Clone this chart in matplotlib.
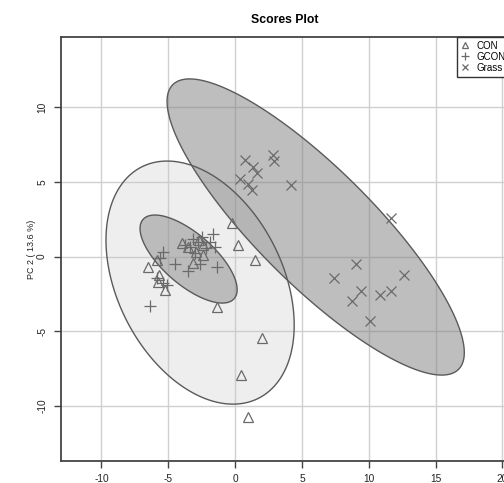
import matplotlib
matplotlib.use("Agg")
import matplotlib.pyplot as plt
from matplotlib.patches import Polygon
import numpy as np

plt.rcParams['font.family'] = ['Liberation Sans', 'DejaVu Sans']
plt.rcParams['axes.unicode_minus'] = False

# scores (PC1, PC2)
con_x = [-0.25, 0.25, -3.99, -2.37, -2.37, -5.87, -6.49, -3.18, -5.69, -5.75,
         -5.24, -1.33, 1.50, 2.0, 0.41, 0.97, -3.5, -2.9, -2.7]
con_y = [2.25, 0.77, 0.89, 0.77, 0.10, -0.23, -0.67, -0.44, -1.24, -1.68,
         -2.28, -3.42, -0.21, -5.49, -7.95, -10.74, 0.66, 0.3, 1.1]

gcon_x = [-1.63, -3.12, -2.75, -1.87, -1.50, -3.37, -3.0, -5.37, -4.49, -2.62,
          -3.5, -1.37, -5.62, -5.87, -5.12, -6.37, -2.17, -2.47, -5.37, -3.75]
gcon_y = [1.51, 1.15, 0.99, 0.99, 0.66, 0.66, 0.21, 0.32, -0.5, -0.5,
          -1.0, -0.67, -0.12, -1.46, -1.91, -3.29, 0.57, 1.31, -1.78, 0.77]

grass_x = [0.75, 1.37, 1.63, 0.37, 0.94, 1.25, 2.87, 2.92, 4.16, 11.63,
           9.06, 7.39, 9.44, 8.76, 10.81, 11.69, 12.64, 10.09]
grass_y = [6.48, 6.0, 5.62, 5.18, 4.87, 4.46, 6.81, 6.41, 4.78, 2.6,
           -0.48, -1.44, -2.34, -3.01, -2.6, -2.34, -1.22, -4.31]

# confidence ellipses: centre and shape matrix [[sxx, sxy], [sxy, syy]]
con_center = [-2.62, -1.75]
con_shape = [[49.6, -20.1], [-20.1, 66.5]]
gcon_center = [-3.48, -0.17]
gcon_shape = [[13.2, -7.44], [-7.44, 8.72]]
grass_center = [6.03, 1.98]
grass_shape = [[123.7, -93.7], [-93.7, 98.7]]

groups = ['CON', 'GCON', 'Grass']
xticks = [-10, -5, 0, 5, 10, 15, 20]
yticks = [-10, -5, 0, 5, 10]


def ellipse_points(center, shape, n=200):
    t = np.linspace(0, 2 * np.pi, n)
    L = np.linalg.cholesky(np.array(shape))
    circ = np.vstack([np.cos(t), np.sin(t)])
    return (L @ circ).T + np.array(center)


fig = plt.figure(figsize=(5.04, 4.83), dpi=100)
ax = fig.add_axes([0.121, 0.0455, 0.889, 0.878])

ax.set_xlim(-13.03, 20.5)
ax.set_ylim(-13.72, 14.73)
ax.set_xticks(xticks)
ax.set_yticks(yticks)
ax.grid(True, color='#d0d0d0', lw=1.0)
ax.set_axisbelow(True)

fills = [(con_center, con_shape, '#c8c8c8', 0.3),
         (gcon_center, gcon_shape, '#8a8a8a', 0.5),
         (grass_center, grass_shape, '#7e7e7e', 0.5)]
for c, s, col, a in fills:
    pts = ellipse_points(c, s)
    ax.add_patch(Polygon(pts, closed=True, facecolor=col, alpha=a,
                         edgecolor='none', zorder=2))
    ax.add_patch(Polygon(pts, closed=True, facecolor='none',
                         edgecolor='#5a5a5a', lw=1.0, zorder=3))

mcol = '#6a6a6a'
ax.plot(con_x, con_y, ls='none', marker='^', ms=7.5, mfc='none', mec=mcol,
        mew=0.9, label=groups[0], zorder=4)
ax.plot(gcon_x, gcon_y, ls='none', marker='+', ms=8.5, mec=mcol,
        mew=0.9, label=groups[1], zorder=4)
ax.plot(grass_x, grass_y, ls='none', marker='x', ms=6.5, mec=mcol,
        mew=0.9, label=groups[2], zorder=4)

for sp in ax.spines.values():
    sp.set_color('#444444')
    sp.set_linewidth(1.3)

ax.tick_params(axis='both', direction='out', length=5, width=1.0,
               color='#444444', labelsize=7.3, labelcolor='#222222')
ax.tick_params(axis='x', pad=4.5)
ax.tick_params(axis='y', pad=5)
for lab in ax.get_yticklabels():
    lab.set_rotation(90)
    lab.set_va('center')

ax.set_ylabel('PC 2 ( 13.6 %)', fontsize=6.5, color='#222222', labelpad=1)
ax.set_title('Scores Plot', fontsize=8.8, fontweight='bold', pad=10)

leg = ax.legend(loc='upper right', bbox_to_anchor=(1, 1), borderaxespad=0,
                fancybox=False, edgecolor='#333333', framealpha=1,
                fontsize=7, handlelength=1.0, handletextpad=0.6,
                labelspacing=0.1, borderpad=0.4, markerscale=0.6)
leg.get_frame().set_linewidth(1.0)

fig.savefig('out.png', dpi=100)
